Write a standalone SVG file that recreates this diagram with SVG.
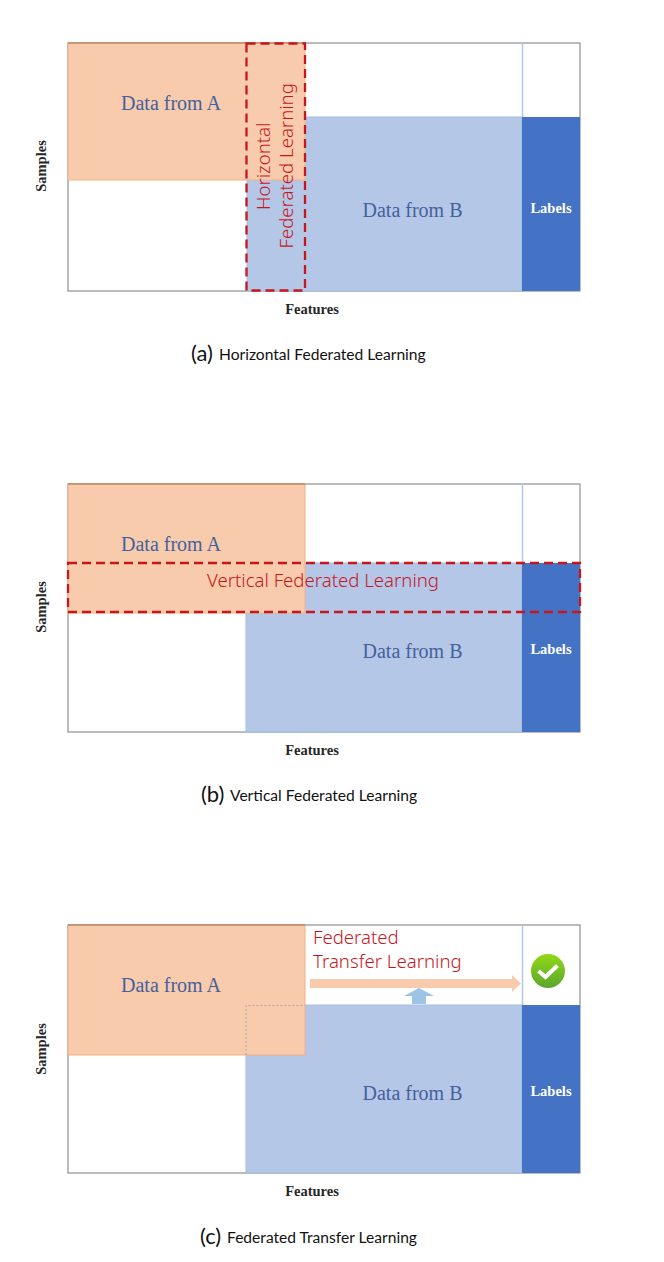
<svg xmlns="http://www.w3.org/2000/svg" width="664" height="1262" viewBox="0 0 664 1262">
<defs>
<linearGradient id="ok" x1="0" y1="0" x2="0" y2="1"><stop offset="0" stop-color="#92d915"/><stop offset="1" stop-color="#5ba52e"/></linearGradient>
</defs>
<style>
.frame{fill:#fff;stroke:#8f8f8f;stroke-width:1.2}
.a{fill:#f8cbad;stroke:#f4b183;stroke-width:1}
.b{fill:#b4c7e7;stroke:#a3bce4;stroke-width:1}
.l{fill:#4472c4}
.div{stroke:#b4c7e7;stroke-width:1.5;fill:none}
.top{stroke:#a8714e;stroke-width:1;fill:none}
.dash{fill:none;stroke:#c8161d;stroke-width:2.3;stroke-dasharray:9 5}
.dt{font:20px "Liberation Serif",serif;fill:#44619d;text-anchor:middle}
.ax{font:bold 14.500px "Liberation Serif",serif;fill:#262626;text-anchor:middle}
.lb{font:bold 14.500px "Liberation Serif",serif;fill:#fff;text-anchor:middle}
.red{font:300 18.600px "Noto Sans",sans-serif;fill:#c8161d}
.cap{font:15.600px "Lato",sans-serif;fill:#111}
.par{font:22px "Lato",sans-serif;fill:#111}
</style>
<g id="panel-a">
<rect class="frame" x="68" y="43" width="512" height="248"/>
<rect class="b" x="247" y="117" width="275" height="174"/>
<rect class="a" x="68" y="43" width="237" height="137"/>
<line class="top" x1="68" y1="43" x2="305" y2="43"/>
<line class="div" x1="522.500" y1="43" x2="522.500" y2="117"/>
<rect id="a-labels" class="l" x="522" y="117" width="58" height="174"/>
<text class="dt" x="171" y="110">Data from A</text>
<text class="dt" x="412.500" y="217">Data from B</text>
<text class="lb" x="551" y="213">Labels</text>
<text class="ax" x="312" y="314">Features</text>
<text class="ax" transform="translate(46 166) rotate(-90)">Samples</text>
<rect class="dash" x="246.500" y="43.500" width="58.500" height="247"/>
<text class="red" transform="translate(269.500 210) rotate(-90)">Horizontal</text>
<text class="red" transform="translate(293 248.500) rotate(-90)">Federated Learning</text>
<text class="par" x="191" y="361">(a)</text>
<text class="cap" x="219" y="360">Horizontal Federated Learning</text>
</g>
<g id="panel-b">
<rect class="frame" x="68" y="484" width="512" height="248"/>
<rect class="b" x="246" y="563" width="276" height="169"/>
<rect class="a" x="68" y="484" width="237" height="129"/>
<line class="top" x1="68" y1="484" x2="305" y2="484"/>
<line class="div" x1="522.500" y1="484" x2="522.500" y2="563"/>
<rect id="b-labels" class="l" x="522" y="563" width="58" height="169"/>
<text class="dt" x="171" y="551">Data from A</text>
<text class="dt" x="412.500" y="658">Data from B</text>
<text class="lb" x="551" y="654">Labels</text>
<text class="ax" x="312" y="755">Features</text>
<text class="ax" transform="translate(46 607) rotate(-90)">Samples</text>
<rect class="dash" x="68" y="563" width="512" height="49"/>
<text class="red" x="207" y="587">Vertical Federated Learning</text>
<text class="par" x="201" y="802">(b)</text>
<text class="cap" x="230" y="801">Vertical Federated Learning</text>
</g>
<g id="panel-c">
<rect class="frame" x="68" y="925" width="512" height="248"/>
<rect class="b" x="246" y="1005" width="276" height="168"/>
<rect class="a" x="68" y="925" width="237" height="130"/>
<line class="top" x1="68" y1="925" x2="305" y2="925"/>
<line class="div" x1="522.500" y1="925" x2="522.500" y2="1005"/>
<rect id="c-labels" class="l" x="522" y="1005" width="58" height="168"/>
<path d="M246 1055V1005.500H305" fill="none" stroke="#a6a6a6" stroke-width="1" stroke-dasharray="2 2"/>
<text class="dt" x="171" y="992">Data from A</text>
<text class="dt" x="412.500" y="1100">Data from B</text>
<text class="lb" x="551" y="1096">Labels</text>
<text class="ax" x="312" y="1196">Features</text>
<text class="ax" transform="translate(46 1049) rotate(-90)">Samples</text>
<text class="red" x="313" y="944">Federated</text>
<text class="red" x="313" y="968">Transfer Learning</text>
<g id="connectors">
<path d="M310 979H512V975L521 983.500L512 992V988H310Z" fill="#f8cbad"/>
<path d="M412 1004V996H404L419 988L434 996H426V1004Z" fill="#9dc3e6"/>
</g>
<g id="check">
<circle cx="548" cy="971" r="17" fill="url(#ok)"/>
<path d="M538.500 971L545.500 977L557.500 965.500" fill="none" stroke="#fff" stroke-width="4"/>
</g>
<text class="par" x="200" y="1244">(c)</text>
<text class="cap" x="227" y="1243">Federated Transfer Learning</text>
</g>
</svg>
